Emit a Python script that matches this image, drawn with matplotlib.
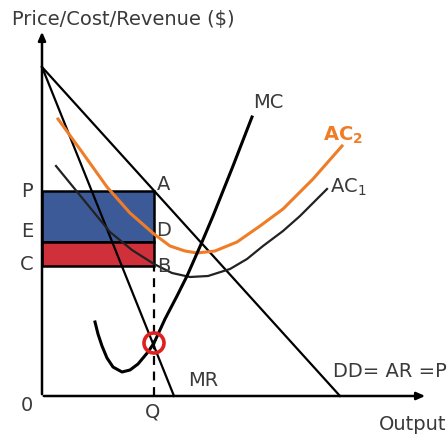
import matplotlib
matplotlib.use("Agg")
import matplotlib.pyplot as plt
from matplotlib.patches import Rectangle, Circle

# ---- data (output on x, price/cost on y) ----
demand_top = 329          # price intercept of DD = AR
demand_end = 298          # quantity intercept of DD
mr_end = 132              # quantity intercept of MR
Q = 112                   # profit-maximising output
E = 154                   # average cost AC2 at Q
C = 130                   # average cost AC1 at Q

ac1_x = [14, 41, 68, 90, 112, 130, 148, 166, 188, 205, 221, 241, 258, 285]
ac1_y = [230, 197, 164, 146, 132, 123, 119, 120, 127, 137, 150, 165, 180, 207]

ac2_x = [16, 40, 65, 88, 112, 128, 143, 155, 173, 195, 218, 241, 271, 300]
ac2_y = [277, 244, 209, 183, 162, 150, 145, 143, 145, 154, 170, 187, 217, 250]

mc_x = [53, 56, 60, 65, 71, 80, 88, 96, 106, 112, 123, 135, 145, 160, 171, 191, 210]
mc_y = [74, 62, 50, 38, 29, 24, 26, 32, 44, 53, 77, 100, 120, 154, 180, 230, 279]

P = demand_top * (1 - Q / demand_end)
mc_at_q = mc_y[mc_x.index(Q)]

TXT = "#3a3a3a"
ORANGE = "#ef7d27"
BLUE = "#3d5a98"
RED = "#d0303a"
plt.rcParams["font.family"] = ["DejaVu Sans"]

fig = plt.figure(figsize=(4.48, 4.39), dpi=100)
ax = fig.add_axes([0, 0, 1, 1])
ax.set_xlim(-42, 406)
ax.set_ylim(-42, 397)
ax.axis("off")

# profit areas
ax.add_patch(Rectangle((0, E), Q, P - E, facecolor=BLUE, edgecolor="black", lw=1.8, zorder=1))
ax.add_patch(Rectangle((0, C), Q, E - C, facecolor=RED, edgecolor="black", lw=1.8, zorder=1))

# axes with arrows
ax.annotate("", xy=(0, 367), xytext=(0, -1),
            arrowprops=dict(arrowstyle="-|>,head_length=0.5,head_width=0.22", lw=1.8, color="black"))
ax.annotate("", xy=(386, 0), xytext=(-1, 0),
            arrowprops=dict(arrowstyle="-|>,head_length=0.5,head_width=0.22", lw=1.8, color="black"))

# demand and marginal revenue
ax.plot([0, demand_end], [demand_top, 0], color="black", lw=1.6, zorder=3)
ax.plot([0, mr_end], [demand_top, 0], color="black", lw=1.6, zorder=3)

# cost curves
ax.plot(ac1_x, ac1_y, color="#222222", lw=1.6, zorder=3, solid_joinstyle="round")
ax.plot(ac2_x, ac2_y, color=ORANGE, lw=2.2, zorder=4, solid_joinstyle="round")
ax.plot(mc_x, mc_y, color="black", lw=2.2, zorder=4, solid_joinstyle="round")

# output level
ax.plot([Q, Q], [0, C], color="black", lw=1.6, ls=(0, (4, 3)), zorder=2)
ax.add_patch(Circle((Q, mc_at_q), 10, facecolor="none", edgecolor="#e0201e", lw=2.6, zorder=5))

fs = 14
ax.text(-30, 377, "Price/Cost/Revenue ($)", fontsize=fs, color=TXT, ha="left", va="center")
ax.text(404, -28, "Output", fontsize=fs, color=TXT, ha="right", va="center")
ax.text(-15, -9, "0", fontsize=fs, color=TXT, ha="center", va="center")
ax.text(Q - 1, -15, "Q", fontsize=fs, color=TXT, ha="center", va="center")
ax.text(-15, P, "P", fontsize=fs, color=TXT, ha="center", va="center")
ax.text(-15, 165, "E", fontsize=fs, color=TXT, ha="center", va="center")
ax.text(-15, 132, "C", fontsize=fs, color=TXT, ha="center", va="center")
ax.text(Q + 3, 212, "A", fontsize=fs, color=TXT, ha="left", va="center")
ax.text(Q + 2, 166, "D", fontsize=fs, color=TXT, ha="left", va="center")
ax.text(Q + 3, 130, "B", fontsize=fs, color=TXT, ha="left", va="center")
ax.text(226, 294, "MC", fontsize=fs, color=TXT, ha="center", va="center")
ax.text(161, 16, "MR", fontsize=fs, color=TXT, ha="center", va="center")
ax.text(291, 25, "DD= AR =P", fontsize=fs, color=TXT, ha="left", va="center")
ax.text(281, 262, r"AC$_{\mathregular{2}}$", fontsize=fs, color=ORANGE, fontweight="bold",
        ha="left", va="center")
ax.text(288, 210, r"AC$_{\mathregular{1}}$", fontsize=fs, color=TXT, ha="left", va="center")

fig.savefig("out.png", dpi=100)
